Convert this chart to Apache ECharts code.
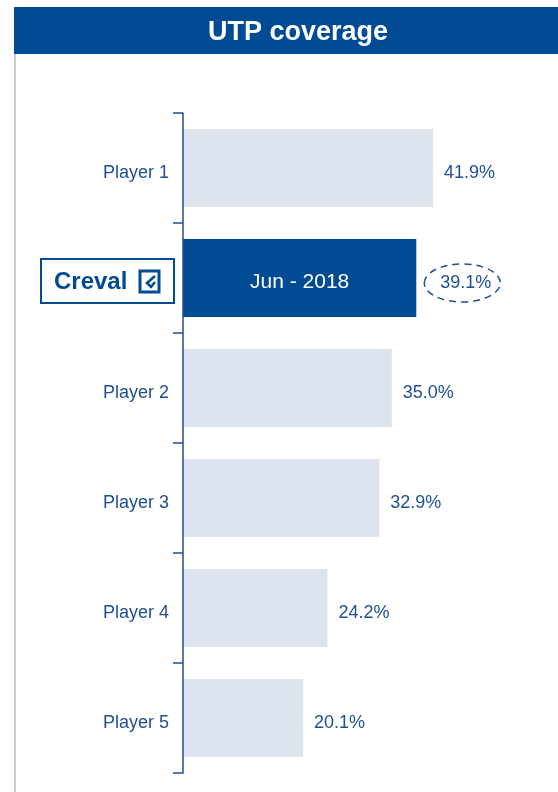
<!DOCTYPE html>
<html>
  <head>
    <meta charset="utf-8">
    <title>UTP coverage</title>
    <script src="https://cdn.jsdelivr.net/npm/echarts@6/dist/echarts.min.js"></script>
    <style>
      body { margin: 0; background: #fff; }
      #chart { width: 558px; height: 792px; }
    </style>
  </head>
  <body>
    <div id="chart"></div>
    <script>
      // data
      var categories = ["Player 1", "Creval", "Player 2", "Player 3", "Player 4", "Player 5"];
      var values = [41.9, 39.1, 35.0, 32.9, 24.2, 20.1];
      var highlightIndex = 1;
      var highlightText = "Jun - 2018";

      var blue = "#004b93";
      var textBlue = "#1f4e96";
      var font = "'Liberation Sans Narrow', 'Arial Narrow', 'Liberation Sans', sans-serif";

      var myChart = echarts.init(document.getElementById("chart"));

      var barData = values.map(function (v, i) {
        if (i == highlightIndex) {
          return { value: v, itemStyle: { color: blue }, label: { distance: 24 } };
        }
        return v;
      });

      var option = {
        animation: false,
        textStyle: { fontFamily: font },
        title: {
          text: "UTP coverage",
          left: 293,
          top: 14,
          textAlign: "center",
          textStyle: { color: "#fff", fontSize: 27, fontWeight: "bold", fontFamily: font }
        },
        grid: { left: 183, top: 113, width: 358, height: 660 },
        xAxis: {
          type: "value", min: 0, max: 60, show: false
        },
        yAxis: {
          type: "category",
          data: categories,
          inverse: true,
          z: 5,
          axisLine: { show: true, lineStyle: { color: textBlue, width: 1.5 } },
          axisTick: { show: true, length: 10, lineStyle: { color: textBlue, width: 1.5 } },
          axisLabel: {
            color: textBlue, fontSize: 18, margin: 14, fontFamily: font,
            formatter: function (v) { return v == "Creval" ? "" : "{p|" + v + "}"; },
            rich: { p: { color: textBlue, fontSize: 18, fontFamily: font, padding: [10, 0, 0, 0] } }
          }
        },
        series: [
          {
            type: "bar",
            data: barData,
            barWidth: 78,
            itemStyle: { color: "#dee4ee" },
            label: {
              show: true, position: "right", distance: 11, offset: [0, 5],
              color: textBlue, fontSize: 18, fontFamily: font,
              formatter: function (p) { return p.value.toFixed(1) + "%"; }
            }
          },
          {
            // white text inside the highlighted bar
            type: "bar",
            barGap: "-100%",
            barWidth: 78,
            silent: true,
            itemStyle: { color: "transparent" },
            data: values.map(function (v, i) { return i == highlightIndex ? v : null; }),
            label: {
              show: true, position: "inside", color: "#fff", fontSize: 21, fontFamily: font,
              offset: [0, 4],
              formatter: function () { return highlightText; }
            }
          }
        ]
      };

      myChart.setOption(option);

      // creval logo and dashed ellipse, placed from the axes
      var c = myChart.convertToPixel({ gridIndex: 0 }, [values[highlightIndex], categories[highlightIndex]]);
      var cy = c[1];
      var ex = c[0] + 46;
      myChart.setOption({
        graphic: [
          { type: "rect", shape: { x: 14, y: 7, width: 544, height: 47 }, style: { fill: blue }, z: -1 },
          { type: "line", shape: { x1: 15, y1: 54, x2: 15, y2: 792 }, style: { stroke: "#cccccc", lineWidth: 2 } },
          {
            type: "ellipse", shape: { cx: ex, cy: cy + 5, rx: 38, ry: 19 },
            style: { fill: "none", stroke: textBlue, lineWidth: 1.5, lineDash: [7, 5] }
          },
          {
            type: "rect", shape: { x: 41, y: cy - 19, width: 133, height: 44 },
            style: { fill: "#fff", stroke: blue, lineWidth: 2 }
          },
          {
            type: "text", x: 54, y: cy + 4,
            style: { text: "Creval", fill: blue, font: "bold 24px " + font, verticalAlign: "middle" }
          },
          {
            type: "rect", shape: { x: 140, y: cy - 7, width: 19, height: 21 },
            style: { fill: "none", stroke: blue, lineWidth: 3 }
          },
          {
            type: "polyline", shape: { points: [[155, cy - 2], [147, cy + 5], [151, cy + 9], [155, cy + 4]] },
            style: { fill: "none", stroke: blue, lineWidth: 2.5 }
          }
        ]
      });
    </script>
  </body>
</html>
